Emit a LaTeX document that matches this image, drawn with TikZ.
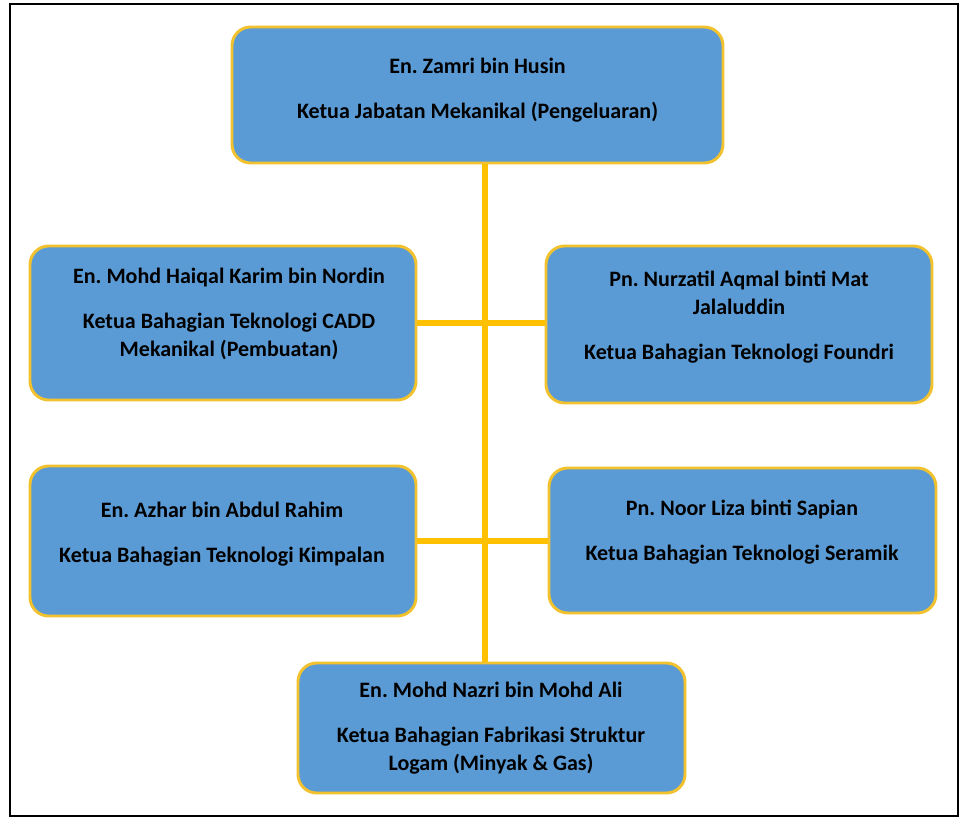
\documentclass[tikz,border=0pt]{standalone}
\usepackage{fontspec}
\setmainfont{Carlito}
\usepackage{tikz}
\frenchspacing
\definecolor{unitblue}{HTML}{5B9BD5}
\definecolor{unitgold}{HTML}{F2C12E}
\definecolor{linkgold}{HTML}{FFC000}
\tikzset{
  unitbox/.style={rectangle, rounded corners=14pt, draw=unitgold, line width=2.2pt, fill=unitblue, inner sep=0pt},
  unittext/.style={align=center, font=\fontsize{16.5pt}{21pt}\selectfont\bfseries, text=black},
  link/.style={draw=linkgold, line width=3.8pt}
}
\newcommand{\orgunitbox}[4] {\node at (#1) (#2) [unitbox, minimum width=#3, minimum height=#4] {};}
\newcommand{\orgunittext}[3] {\node at (#1) (#2) [unittext] {#3};}
\newcommand{\orglink}[2] {\draw [link] (#1) -- (#2);}

\begin{document}
\begin{tikzpicture}[x=0.75pt, y=-0.75pt]
\useasboundingbox (0,0) rectangle (968,825);
\draw [line width=2pt] (10,4) rectangle (958,816);

\coordinate (spinetop) at (485,160);
\coordinate (spinebot) at (485,665);
\orglink{spinetop}{spinebot};

\orgunitbox {477.5,95}{ketua}{368.25pt}{102pt};
\orgunitbox {223,323}{cadd}{289.5pt}{115.5pt};
\orgunitbox {739,324.5}{foundri}{289.5pt}{117.75pt};
\orgunitbox {223,541}{kimpalan}{289.5pt}{112.5pt};
\orgunitbox {742.5,540.5}{seramik}{290.25pt}{108.75pt};
\orgunitbox {491.5,728}{fabrikasi}{290.25pt}{97.5pt};

\orglink{cadd.east}{cadd.east -| foundri.west};
\orglink{kimpalan.east}{kimpalan.east -| seramik.west};

\orgunittext {477.5,90}{ketua-t}{En. Zamri bin Husin\\[12.75pt] Ketua Jabatan Mekanikal (Pengeluaran)};
\orgunittext {229,314}{cadd-t}{En. Mohd Haiqal Karim bin Nordin\\[12.75pt] Ketua Bahagian Teknologi CADD\\ Mekanikal (Pembuatan)};
\orgunittext {739,317}{foundri-t}{Pn. Nurzatil Aqmal binti Mat\\ Jalaluddin\\[12.75pt] Ketua Bahagian Teknologi Foundri};
\orgunittext {222,534}{kimpalan-t}{En. Azhar bin Abdul Rahim\\[12.75pt] Ketua Bahagian Teknologi Kimpalan};
\orgunittext {742,532}{seramik-t}{Pn. Noor Liza binti Sapian\\[12.75pt] Ketua Bahagian Teknologi Seramik};
\orgunittext {491,728}{fabrikasi-t}{En. Mohd Nazri bin Mohd Ali\\[12.75pt] Ketua Bahagian Fabrikasi Struktur\\ Logam (Minyak \& Gas)};
\end{tikzpicture}
\end{document}
